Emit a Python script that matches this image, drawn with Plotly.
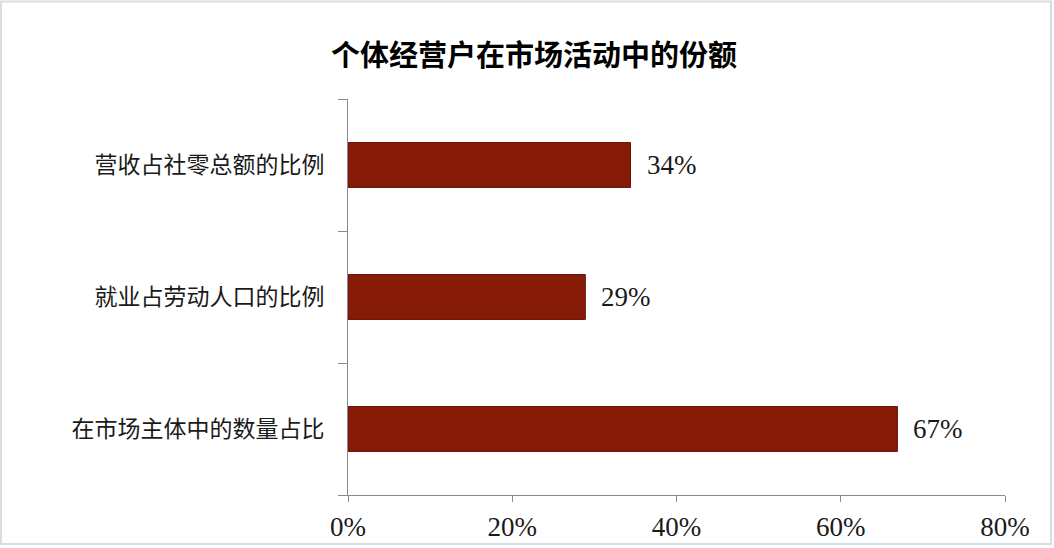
import plotly.graph_objects as go

categories = ["在市场主体中的数量占比", "就业占劳动人口的比例", "营收占社零总额的比例"]
values = [66.9, 28.9, 34.4]
value_labels = ["67%", "29%", "34%"]
x_tick_vals = [0, 20, 40, 60, 80]
x_tick_text = ["0%", "20%", "40%", "60%", "80%"]
title_text = "个体经营户在市场活动中的份额"

W, H = 1054, 548
ML, MR, MT, MB = 348, 49, 99, 53
axis_color = "#8a8894"

fig = go.Figure(
    go.Bar(
        x=values,
        y=categories,
        orientation="h",
        marker=dict(color="#861b07", line=dict(color="#6a1208", width=1)),
        width=0.34,
        hoverinfo="skip",
    )
)

for v, c, t in zip(values, categories, value_labels):
    fig.add_annotation(
        x=v, y=c, text=t, showarrow=False, xanchor="left", yanchor="middle",
        xshift=14, font=dict(family="Liberation Serif", size=27, color="#1a1a1a"),
    )

pw = W - ML - MR
ph = H - MT - MB
fig.add_shape(
    type="rect", xref="paper", yref="paper",
    x0=-ML / pw + 1 / pw, x1=1 + (MR - 3) / pw,
    y0=-(MB - 4) / ph, y1=1 + (MT - 1.5) / ph,
    line=dict(color="#d8dde2", width=2), fillcolor="rgba(0,0,0,0)", layer="below",
)

fig.update_layout(
    width=W, height=H,
    margin=dict(l=ML, r=MR, t=MT, b=MB, pad=0, autoexpand=False),
    paper_bgcolor="white", plot_bgcolor="white",
    showlegend=False,
    title=dict(
        text="<b>" + title_text + "</b>",
        x=534 / W, xanchor="center", y=1 - 56 / H, yanchor="middle",
        font=dict(family="Noto Sans CJK SC", size=29, color="#000000"),
    ),
    xaxis=dict(
        range=[0, 80], tickvals=x_tick_vals, ticktext=x_tick_text,
        showgrid=False, zeroline=False, automargin=False,
        showline=True, linecolor=axis_color, linewidth=1,
        ticks="outside", ticklen=6, tickcolor=axis_color,
        tickfont=dict(family="Liberation Serif", size=27, color="#1a1a1a"),
        ticklabelstandoff=2,
    ),
    yaxis=dict(
        categoryorder="array", categoryarray=categories,
        showgrid=False, zeroline=False, automargin=False,
        showline=True, linecolor=axis_color, linewidth=1,
        ticks="outside", ticklen=9, tickcolor=axis_color, tickson="boundaries",
        tickfont=dict(family="Noto Sans CJK SC", size=23, color="#1a1a1a"),
        ticklabelstandoff=18,
    ),
)

fig.write_html(
    "out.html",
    config={"displayModeBar": False},
    post_script="document.body.style.margin='0';document.body.style.overflow='hidden';",
)
